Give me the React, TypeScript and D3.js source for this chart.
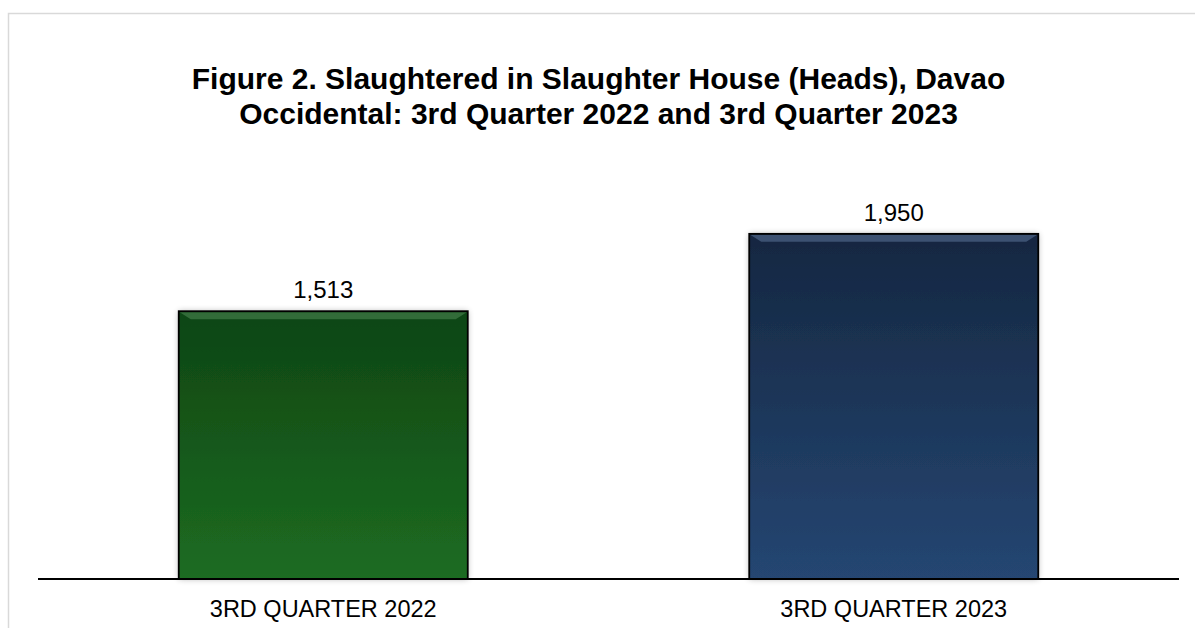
import React from "react"
import { scaleBand, scaleLinear, format } from "d3"

const categories = ["3RD QUARTER 2022", "3RD QUARTER 2023"]
const values = [1513, 1950]
const titleLines = [
  "Figure 2. Slaughtered in Slaughter House (Heads), Davao",
  "Occidental: 3rd Quarter 2022 and 3rd Quarter 2023",
]
const barColors = [
  { top: "#0e4513", bottom: "#1d6c22", bevel: "#5f9a63" },
  { top: "#152741", bottom: "#254672", bevel: "#6a87ad" },
]

const width = 1195
const height = 628
const margin = { left: 38, right: 16, top: 137, bottom: 49 }
const baseline = height - margin.bottom

const App = () => {
  const x = scaleBand<string>()
    .domain(categories)
    .range([margin.left, width - margin.right])
    .paddingInner(0.4934)
    .paddingOuter(0.2467)

  const y = scaleLinear()
    .domain([0, 2500])
    .range([baseline, baseline - 0.177 * 2500])

  const fmt = format(",")
  const font = "'Liberation Sans', Arial, sans-serif"

  return (
    <svg
      width={width}
      height={height}
      style={{ position: "absolute", left: 0, top: 0 }}
      fontFamily={font}
    >
      <defs>
        {barColors.map((c, i) => (
          <linearGradient key={i} id={`grad${i}`} x1="0" y1="0" x2="0" y2="1">
            <stop offset="0%" stopColor={c.top} />
            <stop offset="100%" stopColor={c.bottom} />
          </linearGradient>
        ))}
        <filter id="shadow" x="-10%" y="-10%" width="120%" height="120%">
          <feGaussianBlur in="SourceAlpha" stdDeviation="3" />
          <feComponentTransfer>
            <feFuncA type="linear" slope="0.3" />
          </feComponentTransfer>
          <feMerge>
            <feMergeNode />
            <feMergeNode in="SourceGraphic" />
          </feMerge>
        </filter>
      </defs>

      <rect x={8.5} y={13.5} width={1300} height={800} fill="#fff" stroke="#d9d9d9" strokeWidth={1.5} />

      <text textAnchor="middle" fontWeight="bold" fontSize={30} fill="#000">
        {titleLines.map((t, i) => (
          <tspan key={i} x={width / 2 + 1} y={89 + i * 35}>
            {t}
          </tspan>
        ))}
      </text>

      {values.map((v, i) => {
        const bx = x(categories[i]) ?? 0
        const bw = x.bandwidth()
        const by = y(v)
        const bh = baseline - by
        const c = barColors[i]
        return (
          <g key={i}>
            <rect
              x={bx}
              y={by}
              width={bw}
              height={bh}
              fill={`url(#grad${i})`}
              filter="url(#shadow)"
            />
            <path
              d={`M${bx + 1},${by + 1} L${bx + bw - 1},${by + 1} L${bx + bw - 12},${by + 8} L${bx + 12},${by + 8} Z`}
              fill={c.bevel}
              opacity={0.45}
            />
            <rect
              x={bx}
              y={by}
              width={bw}
              height={bh}
              fill="none"
              stroke="#000"
              strokeWidth={1.8}
            />
            <text
              x={bx + bw / 2}
              y={by - 13}
              textAnchor="middle"
              fontSize={24}
              fill="#000"
            >
              {fmt(v)}
            </text>
            <text
              x={bx + bw / 2}
              y={617}
              textAnchor="middle"
              fontSize={23.5}
              fill="#000"
            >
              {categories[i]}
            </text>
          </g>
        )
      })}

      <line
        x1={margin.left}
        x2={width - margin.right}
        y1={baseline}
        y2={baseline}
        stroke="#000"
        strokeWidth={2}
      />
    </svg>
  )
}

export default App
